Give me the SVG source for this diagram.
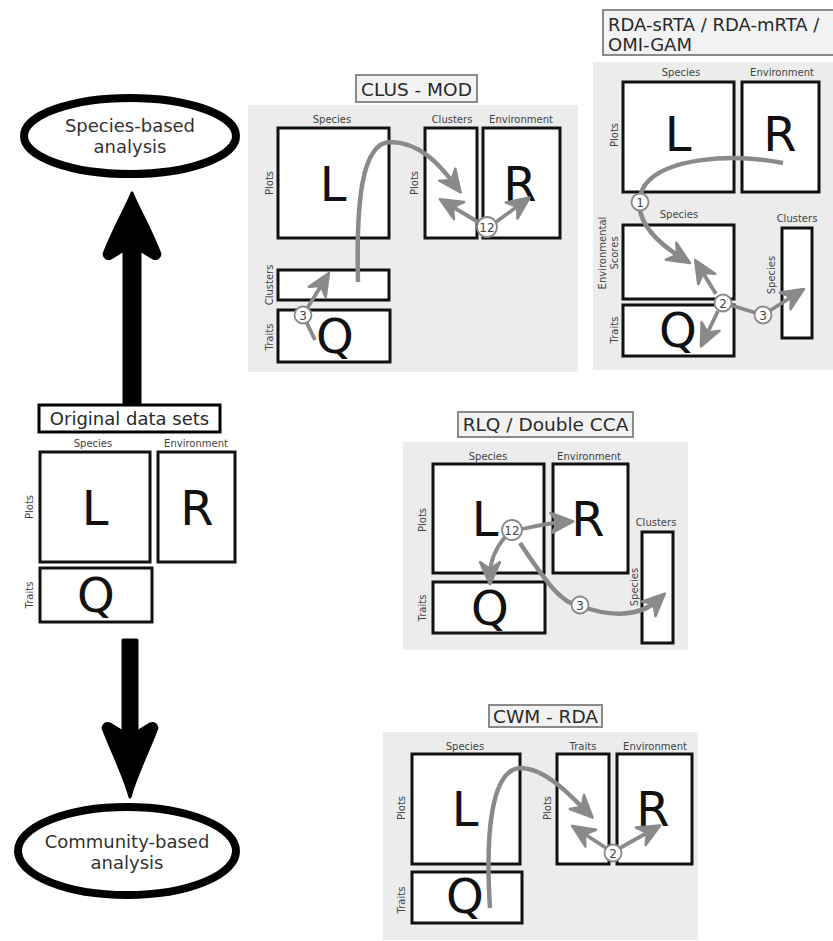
<svg xmlns="http://www.w3.org/2000/svg" width="833" height="941" viewBox="0 0 833 941">
<defs>
<style>
.bg{fill:#ececec;stroke:none}
.ttl{fill:#f2f2f2;stroke:#8a8a8a;stroke-width:2}
.ttx{font-family:"DejaVu Sans",sans-serif;font-size:18.5px;fill:#2a2a2a}
.box{fill:#fff;stroke:#111;stroke-width:3}
.lab{font-family:"DejaVu Sans",sans-serif;font-size:10px;fill:#444;text-anchor:middle}
.big{font-family:"DejaVu Sans",sans-serif;font-size:48px;fill:#111;text-anchor:middle}
.ga{fill:none;stroke:#8a8a8a;stroke-width:4.5}
.gt{fill:none;stroke:#8a8a8a;stroke-width:3.8}
.num circle{fill:#fff;stroke:#8a8a8a;stroke-width:1.8}
.num text{font-family:"DejaVu Sans",sans-serif;font-size:12px;fill:#444;text-anchor:middle}
.ell{fill:#fff;stroke:#000;stroke-width:8}
.etx{font-family:"DejaVu Sans",sans-serif;font-size:18px;fill:#333;text-anchor:middle}
</style>
<marker id="ah" markerUnits="userSpaceOnUse" markerWidth="28" markerHeight="28" viewBox="-14 -12 24 24" refX="0" refY="0" orient="auto">
<path d="M8,0 L-11,-8.5 L-5,0 L-11,8.5 Z" fill="#8a8a8a" stroke="#8a8a8a" stroke-width="2.2" stroke-linejoin="round"/>
</marker>
</defs>
<rect width="833" height="941" fill="#fff"/>

<!-- Left column -->
<g id="species-based">
<ellipse class="ell" cx="130" cy="136" rx="106" ry="38"/>
<text class="etx" x="130" y="132">Species-based</text>
<text class="etx" x="130" y="153">analysis</text>
</g>
<g id="community-based">
<ellipse class="ell" cx="127" cy="851" rx="109" ry="44"/>
<text class="etx" x="127" y="848">Community-based</text>
<text class="etx" x="127" y="869">analysis</text>
</g>
<g id="connectors-main">
<path d="M124,405 L140,405 L140,250 L153,258 Q159,260 160,254 C151,230 139,210 132,193 C125,210 113,230 104,254 Q105,260 111,258 L124,250 Z" fill="#000" stroke="#000" stroke-width="3" stroke-linejoin="round"/>
<path d="M123,640 L137,640 L137,732 L150,724 Q156,722 157,728 C148,752 136,775 130,797 C124,775 112,752 103,728 Q104,722 110,724 L123,732 Z" fill="#000" stroke="#000" stroke-width="3" stroke-linejoin="round"/>
</g>
<g id="original">
<rect x="39" y="405" width="181" height="27" fill="#fff" stroke="#000" stroke-width="3"/>
<text class="ttx" x="129.5" y="425" text-anchor="middle" style="font-size:18px">Original data sets</text>
<text class="lab" x="93" y="447">Species</text>
<text class="lab" x="196" y="447">Environment</text>
<rect class="box" x="40" y="452" width="110" height="110"/>
<rect class="box" x="158" y="452" width="77" height="110"/>
<rect class="box" x="40" y="568" width="112" height="54"/>
<text class="lab" transform="translate(33,507) rotate(-90)">Plots</text>
<text class="lab" transform="translate(33,595) rotate(-90)">Traits</text>
<text class="big" x="95" y="525">L</text>
<text class="big" x="197" y="525">R</text>
<text class="big" x="96" y="612">Q</text>
</g>

<!-- CLUS - MOD -->
<g id="clus-mod">
<rect class="bg" x="248" y="105" width="330" height="267"/>
<rect class="ttl" x="356" y="75" width="121" height="27"/>
<text class="ttx" x="416.5" y="95.5" text-anchor="middle">CLUS - MOD</text>
<text class="lab" x="332" y="123">Species</text>
<text class="lab" x="452" y="123">Clusters</text>
<text class="lab" x="521" y="123">Environment</text>
<rect class="box" x="278" y="128" width="111" height="110"/>
<rect class="box" x="425" y="128" width="52" height="110"/>
<rect class="box" x="483" y="128" width="77" height="110"/>
<rect class="box" x="278" y="270" width="111" height="30"/>
<rect class="box" x="278" y="310" width="112" height="52"/>
<text class="lab" transform="translate(273,183) rotate(-90)">Plots</text>
<text class="lab" transform="translate(418,183) rotate(-90)">Plots</text>
<text class="lab" transform="translate(273,285) rotate(-90)">Clusters</text>
<text class="lab" transform="translate(273,337) rotate(-90)">Traits</text>
<text class="big" x="333" y="201">L</text>
<text class="big" x="520" y="201">R</text>
<text class="big" x="335" y="353">Q</text>
</g>

<!-- RDA -->
<g id="rda">
<rect class="bg" x="593" y="62" width="240" height="308"/>
<rect class="ttl" x="603" y="10" width="232" height="45"/>
<text class="ttx" x="608" y="31" style="font-size:18px">RDA-sRTA / RDA-mRTA /</text>
<text class="ttx" x="608" y="51" style="font-size:18px">OMI-GAM</text>
<text class="lab" x="681" y="76">Species</text>
<text class="lab" x="782" y="76">Environment</text>
<rect class="box" x="623" y="82" width="111" height="110"/>
<rect class="box" x="742" y="82" width="77" height="110"/>
<text class="lab" x="679" y="218">Species</text>
<text class="lab" x="797" y="222">Clusters</text>
<rect class="box" x="623" y="225" width="111" height="74"/>
<rect class="box" x="623" y="305" width="111" height="51"/>
<rect class="box" x="782" y="228" width="30" height="110"/>
<text class="lab" transform="translate(606,253) rotate(-90)">Environmental</text>
<text class="lab" transform="translate(618,253) rotate(-90)">Scores</text>
<text class="lab" transform="translate(618,135) rotate(-90)">Plots</text>
<text class="lab" transform="translate(618,330) rotate(-90)">Traits</text>
<text class="lab" transform="translate(775,275) rotate(-90)">Species</text>
<text class="big" x="678" y="151">L</text>
<text class="big" x="780" y="151">R</text>
<text class="big" x="678" y="347">Q</text>
</g>

<!-- RLQ -->
<g id="rlq">
<rect class="bg" x="403" y="442" width="285" height="208"/>
<rect class="ttl" x="458" y="412" width="175" height="25"/>
<text class="ttx" x="545.5" y="431" text-anchor="middle">RLQ / Double CCA</text>
<text class="lab" x="488" y="460">Species</text>
<text class="lab" x="589" y="460">Environment</text>
<text class="lab" x="656" y="526">Clusters</text>
<rect class="box" x="433" y="464" width="111" height="109"/>
<rect class="box" x="553" y="464" width="75" height="109"/>
<rect class="box" x="433" y="582" width="112" height="51"/>
<rect class="box" x="642" y="532" width="31" height="111"/>
<text class="lab" transform="translate(426,520) rotate(-90)">Plots</text>
<text class="lab" transform="translate(426,608) rotate(-90)">Traits</text>
<text class="lab" transform="translate(638,587) rotate(-90)">Species</text>
<text class="big" x="485" y="536">L</text>
<text class="big" x="588" y="536">R</text>
<text class="big" x="490" y="625">Q</text>
</g>

<!-- CWM -->
<g id="cwm">
<rect class="bg" x="383" y="732" width="315" height="208"/>
<rect class="ttl" x="489" y="705" width="113" height="22"/>
<text class="ttx" x="545.5" y="723" text-anchor="middle">CWM - RDA</text>
<text class="lab" x="465" y="750">Species</text>
<text class="lab" x="583" y="750">Traits</text>
<text class="lab" x="655" y="750">Environment</text>
<rect class="box" x="412" y="754" width="108" height="110"/>
<rect class="box" x="557" y="754" width="52" height="110"/>
<rect class="box" x="617" y="754" width="75" height="110"/>
<rect class="box" x="412" y="872" width="110" height="51"/>
<text class="lab" transform="translate(405,808) rotate(-90)">Plots</text>
<text class="lab" transform="translate(551,808) rotate(-90)">Plots</text>
<text class="lab" transform="translate(405,900) rotate(-90)">Traits</text>
<text class="big" x="465" y="826">L</text>
<text class="big" x="653" y="826">R</text>
<text class="big" x="465" y="913">Q</text>
</g>

<!-- Gray connectors -->
<g id="connectors">
<path class="ga" d="M358,282 C356,200 362,143 390,142 C420,142 440,165 455,185" marker-end="url(#ah)"/>
<path class="gt" d="M478,222 L448,204" marker-end="url(#ah)"/>
<path class="gt" d="M496,222 L522,203" marker-end="url(#ah)"/>
<path class="gt" d="M315,340 L303,315 L324,281" marker-end="url(#ah)"/>

<path class="ga" d="M783,163 C730,153 665,158 645,185 C632,205 640,232 682,258" marker-end="url(#ah)"/>
<path class="gt" d="M716,294 L700,268" marker-end="url(#ah)"/>
<path class="gt" d="M718,311 L705,338" marker-end="url(#ah)"/>
<path class="gt" d="M730,305 L763,315 L796,294" marker-end="url(#ah)"/>

<path class="gt" d="M522,529 C540,525 550,523 564,522" marker-end="url(#ah)"/>
<path class="gt" d="M505,537 Q490,555 490,575" marker-end="url(#ah)"/>
<path class="ga" d="M520,543 C545,580 560,603 580,606 C610,617 640,617 658,600" marker-end="url(#ah)"/>

<path class="ga" d="M490,908 C485,830 492,770 520,768 C545,768 570,795 586,811" marker-end="url(#ah)"/>
<path class="gt" d="M606,848 L580,831" marker-end="url(#ah)"/>
<path class="gt" d="M620,848 L652,830" marker-end="url(#ah)"/>
</g>
<g id="labels-num">
<g class="num"><circle cx="487" cy="227" r="10"/><text x="487" y="231.5">12</text></g>
<g class="num"><circle cx="303" cy="315" r="8.5"/><text x="303" y="319.5">3</text></g>
<g class="num"><circle cx="640" cy="202" r="8.5"/><text x="640" y="206.5">1</text></g>
<g class="num"><circle cx="723" cy="303" r="8.5"/><text x="723" y="307.5">2</text></g>
<g class="num"><circle cx="763" cy="315" r="8.5"/><text x="763" y="319.5">3</text></g>
<g class="num"><circle cx="512" cy="530" r="10"/><text x="512" y="534.5">12</text></g>
<g class="num"><circle cx="580" cy="605" r="8.5"/><text x="580" y="609.5">3</text></g>
<g class="num"><circle cx="613" cy="853" r="8.5"/><text x="613" y="857.5">2</text></g>
</g>
</svg>
